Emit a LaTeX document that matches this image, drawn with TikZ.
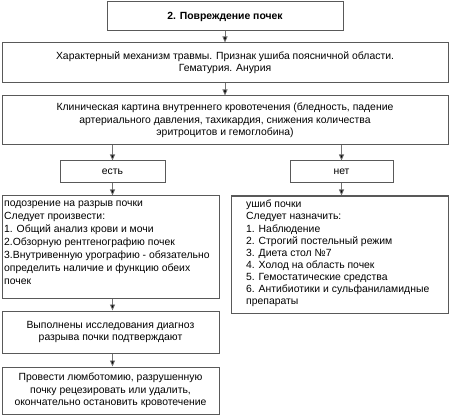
\documentclass[tikz,border=0pt]{standalone}
\usepackage{fontspec}
\setmainfont{Liberation Sans}
\usetikzlibrary{arrows.meta}
\begin{document}
\begin{tikzpicture}[x=1pt,y=-1pt,
  box/.style={draw=black!65,line width=1pt,fill=white,inner sep=0pt,
    font=\fontsize{10.4}{12.3}\selectfont,align=center},
  txt/.style={anchor=north west,inner sep=0pt,align=left},
  arr/.style={draw=black!55,line width=0.8pt,-{Triangle[length=6pt,width=5pt,fill=black]}}]
\useasboundingbox (0,0) rectangle (450,417);
\node[box,minimum width=236,minimum height=29,font=\fontsize{10.4}{12}\selectfont\bfseries] (b1) at (225,16.5) {2. Повреждение почек};
\node[box,minimum width=446,minimum height=40] (b2) at (225,63) {Характерный механизм травмы. Признак ушиба поясничной области.\\Гематурия. Анурия};
\node[box,minimum width=446,minimum height=49] (b3) at (225,120.5) {Клиническая картина внутреннего кровотечения (бледность, падение\\артериального давления, тахикардия, снижения количества\\эритроцитов и гемоглобина)};
\node[box,minimum width=105,minimum height=22] (yes) at (112.5,172) {есть};
\node[box,minimum width=103,minimum height=22] (no) at (341.5,172) {нет};
\node[box,minimum width=217,minimum height=102] (a) at (110.5,247) {};
\node[txt,font=\fontsize{10.4}{12.9}\selectfont] (at) at (4,201) {подозрение на разрыв почки\\Следует произвести:\\1. Общий анализ крови и мочи\\2.Обзорную рентгенографию почек\\3.Внутривенную урографию - обязательно\\определить наличие и функцию обеих\\почек};
\node[box,minimum width=217,minimum height=117] (b) at (339.5,254.5) {};
\node[txt,font=\fontsize{10.4}{12.1}\selectfont] (bt) at (246,200) {ушиб почки\\Следует назначить:\\1. Наблюдение\\2. Строгий постельный режим\\3. Диета стол №7\\4. Холод на область почек\\5. Гемостатические средства\\6. Антибиотики и сульфаниламидные\\препараты};
\node[box,minimum width=217,minimum height=42] (c) at (110.5,332) {Выполнены исследования диагноз\\разрыва почки подтверждают};
\node[box,minimum width=217,minimum height=47] (d) at (110.5,390.5) {Провести люмботомию, разрушенную\\почку рецезировать или удалить,\\окончательно остановить кровотечение};
\draw[arr] (b1.south) -- (b2.north);
\draw[arr] (b2.south) -- (b3.north);
\draw[arr] (b3.south -| yes.north) -- (yes.north);
\draw[arr] (b3.south -| no.north) -- (no.north);
\draw[arr] (yes.south) -- (yes.south |- a.north);
\draw[arr] (no.south) -- (no.south |- b.north);
\draw[arr] (a.south -| yes.south) -- (c.north -| yes.south);
\draw[arr] (c.south -| yes.south) -- (d.north -| yes.south);
\end{tikzpicture}
\end{document}
